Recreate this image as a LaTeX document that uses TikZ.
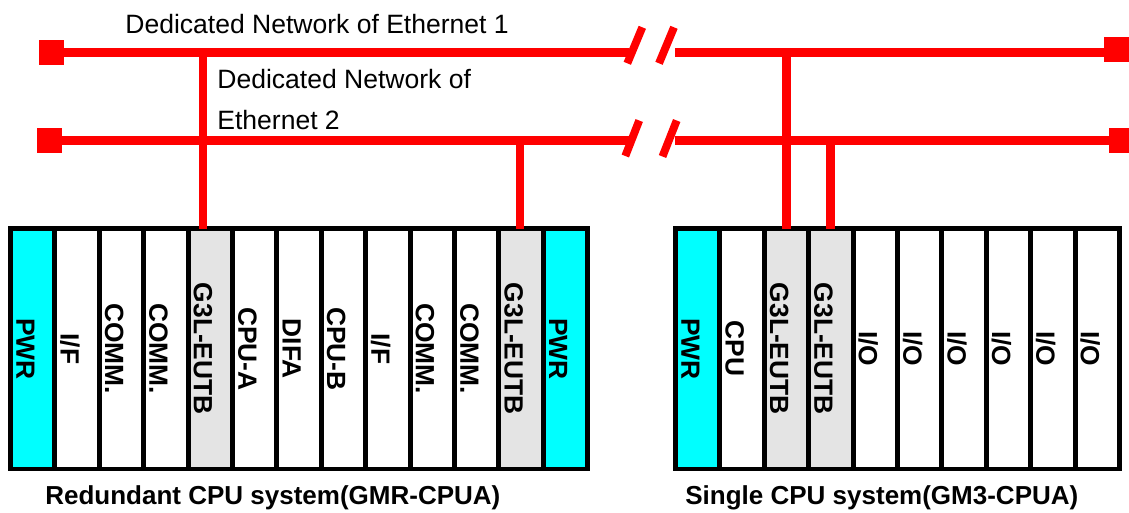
\documentclass[tikz,border=0pt]{standalone}
\usepackage{fontspec}
\setmainfont{Liberation Sans}
\usepackage{xcolor}
\definecolor{netred}{RGB}{255,0,0}
\definecolor{pwrcyan}{RGB}{0,255,255}
\definecolor{eutbgray}{RGB}{228,228,228}
\usepackage{tikz}
\usetikzlibrary{calc}

\begin{document}
\begin{tikzpicture}[x=0.02cm, y=-0.02cm,
        bus/.style={draw=netred, line width=5.1pt},
        busend/.style={rectangle, fill=netred, minimum size=0.5cm, inner sep=0pt},
        cut/.style={draw=netred, line width=4.5pt},
        slot/.style={rectangle, draw=black, line width=2.83pt, rotate=-90, minimum width=4.81cm, minimum height=0.888cm, inner sep=0pt, outer sep=0pt, text height=18.7pt, text depth=0pt, font=\fontsize{15}{18}\selectfont\bfseries},
        netlabel/.style={inner sep=0pt, align=left, font=\fontsize{15.1}{23.2}\selectfont},
        syslabel/.style={inner sep=0pt, font=\fontsize{14.8}{17}\selectfont\bfseries}
    ]
        \useasboundingbox (0,0) rectangle (1129,512);

        \node[busend] (e1l) at (51.5,52.3) {};
        \node[busend] (e1r) at (1116.5,49.5) {};
        \node[busend] (e2l) at (49.5,140.3) {};
        \node[busend] (e2r) at (1121.5,140.3) {};

        \coordinate (b1a) at (629.3,52.3);
        \coordinate (b1b) at (675,52.3);
        \coordinate (b2a) at (629.3,140.3);
        \coordinate (b2b) at (675,140.3);

        \draw[bus] (e1l) -- (b1a);
        \draw[bus] (b1b) -- (b1b -| e1r);
        \draw[bus] (e2l) -- (b2a);
        \draw[bus] (b2b) -- (e2r);

        \draw[cut] (627.3,63.3) -- (642.3,27.3);
        \draw[cut] (659,63.3) -- (674,27.3);
        \draw[cut] (625.3,156) -- (639.2,120.5);
        \draw[cut] (662.5,156.5) -- (676.7,120.5);

        \coordinate (tap1) at (203,52.3);
        \coordinate (tap2) at (520,140.3);
        \coordinate (tap3) at (786.5,52.3);
        \coordinate (tap4) at (830.9,140.3);

        \foreach \lbl/\col [count=\i] in {PWR/pwrcyan, {I/F}/white, COMM./white, COMM./white, G3L-EUTB/eutbgray, CPU-A/white, DIFA/white, CPU-B/white, {I/F}/white, COMM./white, COMM./white, G3L-EUTB/eutbgray, PWR/pwrcyan} {
            \node[slot, fill=\col] (redun\i) at ({10.5+44.4*(\i-0.5)},348.75) {\lbl};
        }
        \foreach \lbl/\col [count=\i] in {PWR/pwrcyan, CPU/white, G3L-EUTB/eutbgray, G3L-EUTB/eutbgray, {I/O}/white, {I/O}/white, {I/O}/white, {I/O}/white, {I/O}/white, {I/O}/white} {
            \node[slot, fill=\col] (single\i) at ({675.5+44.4*(\i-0.5)},348.75) {\lbl};
        }

        \draw[bus] (tap1) -- (tap1 |- redun5.west);
        \draw[bus] (tap2) -- (tap2 |- redun12.west);
        \draw[bus] (tap3) -- (tap3 |- single3.west);
        \draw[bus] (tap4) -- (tap4 |- single4.west);

        \node[netlabel, anchor=base west] (net1) at (125,33.3) {Dedicated Network of Ethernet 1};
        \node[netlabel, anchor=base west] (net2) at (217,129.3) {Dedicated Network of\\Ethernet 2};

        \node[syslabel, anchor=base west] (redunlbl) at (45,504.3) {Redundant CPU system(GMR-CPUA)};
        \node[syslabel, anchor=base west] (singlelbl) at (685,504.3) {Single CPU system(GM3-CPUA)};
    \end{tikzpicture}
\end{document}
